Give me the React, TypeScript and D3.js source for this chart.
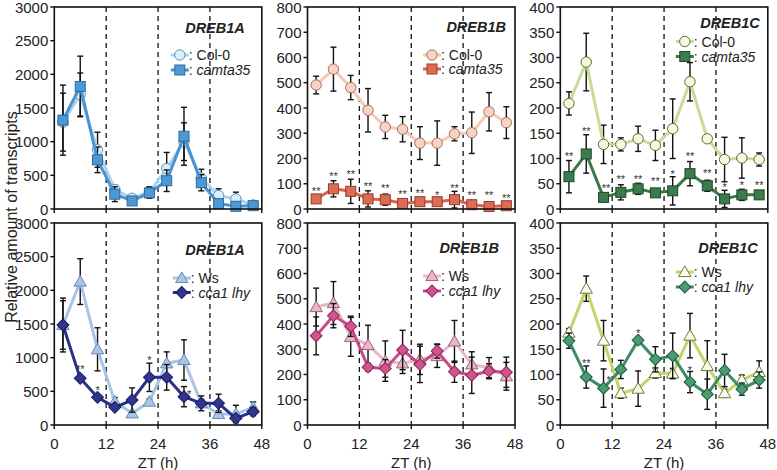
import React from 'react';
import * as d3 from 'd3';

// sampling times (ZT, h)
const zt = [2, 6, 10, 14, 18, 22, 26, 30, 34, 38, 42, 46];
const xTicks = [0, 12, 24, 36, 48];
const nightLines = [12, 24, 36];

// top row: Col-0 vs camta35
const a1Col = [1290, 1700, 880, 290, 160, 250, 600, 1000, 460, 200, 150, 60];
const a1ColErr = [430, 320, 260, 60, 40, 80, 240, 280, 130, 100, 100, 30];
const a1Cam = [1320, 1820, 730, 220, 120, 240, 420, 1080, 390, 80, 40, 50];
const a1CamErr = [520, 450, 190, 110, 40, 80, 160, 430, 120, 50, 30, 25];

const b1Col = [491, 554, 481, 391, 325, 316, 261, 261, 298, 302, 385, 342];
const b1ColErr = [35, 87, 48, 86, 46, 50, 65, 88, 28, 82, 76, 63];
const b1Cam = [40, 80, 70, 40, 37, 22, 29, 29, 37, 17, 10, 13];
const b1CamErr = [12, 32, 48, 32, 22, 12, 12, 10, 33, 8, 5, 5];

const c1Col = [209, 291, 128, 128, 139, 126, 159, 252, 139, 98, 101, 98];
const c1ColErr = [23, 57, 38, 13, 25, 30, 59, 38, 5, 44, 40, 13];
const c1Cam = [64, 109, 23, 33, 40, 32, 36, 70, 46, 20, 28, 28];
const c1CamErr = [32, 38, 4, 15, 11, 5, 28, 24, 11, 17, 11, 3];

// bottom row: Ws vs cca1 lhy
const a2Ws = [1485, 2130, 1124, 347, 173, 347, 916, 965, 322, 163, 163, 262];
const a2WsErr = [400, 340, 320, 60, 40, 40, 170, 300, 60, 50, 130, 80];
const a2Cca = [1485, 693, 411, 262, 371, 708, 708, 421, 322, 322, 99, 198];
const a2CcaErr = [360, 40, 40, 30, 180, 210, 190, 150, 110, 135, 40, 60];

const b2Ws = [467, 483, 349, 317, 253, 244, 260, 273, 331, 240, 227, 193];
const b2WsErr = [75, 85, 77, 78, 80, 40, 60, 45, 83, 50, 40, 55];
const b2Cca = [353, 433, 391, 229, 224, 297, 240, 293, 211, 197, 213, 209];
const b2CcaErr = [75, 48, 40, 15, 35, 78, 72, 28, 42, 72, 30, 60];

const c2Ws = [183, 270, 167, 63, 72, 103, 102, 177, 117, 63, 89, 105];
const c2WsErr = [8, 25, 40, 10, 35, 10, 10, 44, 50, 8, 10, 22];
const c2Cca = [167, 95, 73, 110, 168, 130, 137, 85, 61, 108, 71, 89];
const c2CcaErr = [15, 22, 38, 18, 3, 25, 45, 21, 30, 32, 12, 16];

// significance marks: [ZT, label, value where the mark sits]
const b1Stars: [number, string, number][] = [
  [2, '**', 80], [6, '**', 139], [10, '**', 146], [14, '**', 99], [18, '**', 93], [22, '**', 66],
  [26, '**', 73], [30, '*', 62], [34, '**', 93], [38, '**', 62], [42, '**', 62], [46, '**', 53],
];
const c1Stars: [number, string, number][] = [
  [2, '**', 109], [6, '**', 159], [10.6, '**', 46], [14, '**', 64], [18, '**', 64], [22, '**', 60],
  [26, '*', 73], [30, '**', 108], [34, '**', 75], [38, '*', 48], [42, '*', 51], [46, '**', 51],
];
const a2Stars: [number, string, number][] = [
  [6, '**', 856], [10, '*', 545], [22, '*', 990], [31.2, '*', 495],
];
const c2Stars: [number, string, number][] = [
  [6, '**', 127], [11.2, '*', 93], [18, '*', 187], [30, '*', 113],
];

const FONT = '"Liberation Sans", Arial, Helvetica, sans-serif';

type Series = {
  name: string;
  italic: boolean;
  values: number[];
  err: number[];
  line: string;
  fill: string;
  stroke: string;
  shape: 'circle' | 'square' | 'triangle' | 'diamond';
};

function Marker({ s, x, y }: { s: Series; x: number; y: number }) {
  if (s.shape === 'circle') {
    return <circle cx={x} cy={y} r={5.2} fill={s.fill} stroke={s.stroke} strokeWidth={1} />;
  }
  if (s.shape === 'square') {
    return <rect x={x - 5} y={y - 5} width={10} height={10} fill={s.fill} stroke={s.stroke} strokeWidth={1} />;
  }
  if (s.shape === 'diamond') {
    return <rect x={x - 4.2} y={y - 4.2} width={8.4} height={8.4} fill={s.fill} stroke={s.stroke} strokeWidth={1}
      transform={`rotate(45 ${x} ${y})`} />;
  }
  const p = d3.symbol().type(d3.symbolTriangle).size(66)();
  return <path d={p || ''} transform={`translate(${x},${y + 1})`} fill={s.fill} stroke={s.stroke} strokeWidth={1} />;
}

type PanelProps = {
  x0: number; y0: number; w: number; h: number;
  yMax: number; yStep: number; showX: boolean;
  title: string; titleRight: number; titleY: number;
  legendRight: number; legendY1: number; legendY2: number;
  s1: Series; s2: Series;
  stars?: [number, string, number][];
};

function Panel(p: PanelProps) {
  const x = d3.scaleLinear().domain([0, 48]).range([p.x0, p.x0 + p.w]);
  const y = d3.scaleLinear().domain([0, p.yMax]).range([p.y0 + p.h, p.y0]);
  const yTicks = d3.range(0, p.yMax + 1, p.yStep);
  const right = p.x0 + p.w;
  const bottom = p.y0 + p.h;
  const line = d3.line<number>().x((_, i) => x(zt[i])).y(v => y(v));

  const drawSeries = (s: Series) => (
    <g>
      {s.values.map((v, i) => {
        const cx = x(zt[i]);
        const t = y(v + s.err[i]);
        const b = y(Math.max(0, v - s.err[i]));
        return (
          <g key={i} stroke="#111" strokeWidth={1.4}>
            <line x1={cx} x2={cx} y1={t} y2={b} />
            <line x1={cx - 3} x2={cx + 3} y1={t} y2={t} />
            <line x1={cx - 3} x2={cx + 3} y1={b} y2={b} />
          </g>
        );
      })}
      <path d={line(s.values) || ''} fill="none" stroke={s.line} strokeWidth={3} strokeLinejoin="round" />
      {s.values.map((v, i) => <Marker key={i} s={s} x={x(zt[i])} y={y(v)} />)}
    </g>
  );

  const mx = right - p.legendRight;
  const legendRow = (s: Series, ly: number) => (
    <g>
      <line x1={mx - 9} x2={mx + 9} y1={ly} y2={ly} stroke={s.line} strokeWidth={3} />
      <Marker s={s} x={mx} y={ly} />
      <text x={mx + 9} y={ly} dominantBaseline="central" fontSize={14} fill="#222">
        {': '}<tspan fontStyle={s.italic ? 'italic' : 'normal'}>{s.name}</tspan>
      </text>
    </g>
  );

  return (
    <g fontFamily={FONT}>
      {nightLines.map(t => (
        <line key={t} x1={x(t)} x2={x(t)} y1={p.y0} y2={bottom} stroke="#111" strokeWidth={1.3} strokeDasharray="5,4" />
      ))}
      {drawSeries(p.s1)}
      {drawSeries(p.s2)}
      {(p.stars || []).map(([t, lab, v], i) => (
        <text key={i} x={x(t)} y={y(v) + 6} textAnchor="middle" fontSize={11} fill="#333">{lab}</text>
      ))}
      <rect x={p.x0} y={p.y0} width={p.w} height={p.h} fill="none" stroke="#111" strokeWidth={1.6} />
      {yTicks.map(t => (
        <g key={t}>
          <line x1={p.x0 - 4} x2={p.x0} y1={y(t)} y2={y(t)} stroke="#111" strokeWidth={1.4} />
          <text x={p.x0 - 6} y={y(t)} textAnchor="end" dominantBaseline="central" fontSize={15} fill="#222">{t}</text>
        </g>
      ))}
      {xTicks.map(t => (
        <g key={t}>
          <line x1={x(t)} x2={x(t)} y1={bottom} y2={bottom + 4} stroke="#111" strokeWidth={1.4} />
          {p.showX && (
            <text x={x(t)} y={bottom + 18} textAnchor="middle" dominantBaseline="central" fontSize={15} fill="#222">{t}</text>
          )}
        </g>
      ))}
      {p.showX && (
        <text x={x(24)} y={bottom + 37} textAnchor="middle" dominantBaseline="central" fontSize={15} fill="#222">ZT (h)</text>
      )}
      <text x={right - p.titleRight} y={p.y0 + p.titleY} textAnchor="end" dominantBaseline="central"
        fontSize={14.5} fontWeight="bold" fontStyle="italic" fill="#222">{p.title}</text>
      {legendRow(p.s1, p.y0 + p.legendY1)}
      {legendRow(p.s2, p.y0 + p.legendY2)}
    </g>
  );
}

export default function App() {
  const W = 207.5, H = 202;
  const cols = [54.3, 307.5, 560.3];
  const rows = [7, 223];

  const col = (values: number[], err: number[], line: string, fill: string, stroke: string): Series =>
    ({ name: 'Col-0', italic: false, values, err, line, fill, stroke, shape: 'circle' });
  const cam = (values: number[], err: number[], line: string, fill: string, stroke: string): Series =>
    ({ name: 'camta35', italic: true, values, err, line, fill, stroke, shape: 'square' });
  const ws = (values: number[], err: number[], line: string, fill: string, stroke: string): Series =>
    ({ name: 'Ws', italic: false, values, err, line, fill, stroke, shape: 'triangle' });
  const cca = (values: number[], err: number[], line: string, fill: string, stroke: string): Series =>
    ({ name: 'cca1 lhy', italic: true, values, err, line, fill, stroke, shape: 'diamond' });

  return (
    <svg width={777} height={470} style={{ position: 'absolute', left: 0, top: 0, background: '#fff' }}>
      <Panel x0={cols[0]} y0={rows[0]} w={W} h={H} yMax={3000} yStep={500} showX={false}
        title="DREB1A" titleRight={17} titleY={21} legendRight={82} legendY1={48} legendY2={63}
        s1={col(a1Col, a1ColErr, '#a8d4ee', '#dcf0f7', '#5a93bd')}
        s2={cam(a1Cam, a1CamErr, '#4a92d0', '#4e99d3', '#2b6aa3')} />
      <Panel x0={cols[1]} y0={rows[0]} w={W} h={H} yMax={800} yStep={100} showX={false}
        title="DREB1B" titleRight={9} titleY={20} legendRight={83} legendY1={48} legendY2={62}
        s1={col(b1Col, b1ColErr, '#f4cbb6', '#f6d3c4', '#a8705c')}
        s2={cam(b1Cam, b1CamErr, '#d8654b', '#dc6c54', '#9a3b29')} stars={b1Stars} />
      <Panel x0={cols[2]} y0={rows[0]} w={W} h={H} yMax={400} yStep={50} showX={false}
        title="DREB1C" titleRight={8} titleY={16} legendRight={83} legendY1={34.5} legendY2={49.5}
        s1={col(c1Col, c1ColErr, '#c6dd97', '#f6f8e2', '#5b6a32')}
        s2={cam(c1Cam, c1CamErr, '#3a7a4a', '#3c7b4b', '#1d4a2a')} stars={c1Stars} />

      <Panel x0={cols[0]} y0={rows[1]} w={W} h={H} yMax={3000} yStep={500} showX={true}
        title="DREB1A" titleRight={17} titleY={27} legendRight={80} legendY1={55} legendY2={69.5}
        s1={ws(a2Ws, a2WsErr, '#a6c5e7', '#a9c4e4', '#6b88b3')}
        s2={cca(a2Cca, a2CcaErr, '#2b2f88', '#30368f', '#1a1d5c')} stars={a2Stars} />
      <Panel x0={cols[1]} y0={rows[1]} w={W} h={H} yMax={800} yStep={100} showX={true}
        title="DREB1B" titleRight={16} titleY={25} legendRight={83} legendY1={53} legendY2={68}
        s1={ws(b2Ws, b2WsErr, '#e9b8c9', '#eab7ca', '#a0606f')}
        s2={cca(b2Cca, b2CcaErr, '#c64b86', '#d1548f', '#8a2455')} />
      <Panel x0={cols[2]} y0={rows[1]} w={W} h={H} yMax={400} yStep={50} showX={true}
        title="DREB1C" titleRight={10} titleY={25} legendRight={83} legendY1={49} legendY2={64}
        s1={ws(c2Ws, c2WsErr, '#c3d46b', '#fbfbf2', '#6f7a35')}
        s2={cca(c2Cca, c2CcaErr, '#3d8c66', '#4b9a72', '#1e5a3e')} stars={c2Stars} />

      <text transform="translate(11,217) rotate(-90)" textAnchor="middle" dominantBaseline="central"
        fontFamily={FONT} fontSize={16} fill="#222">Relative amount of transcripts</text>
    </svg>
  );
}
